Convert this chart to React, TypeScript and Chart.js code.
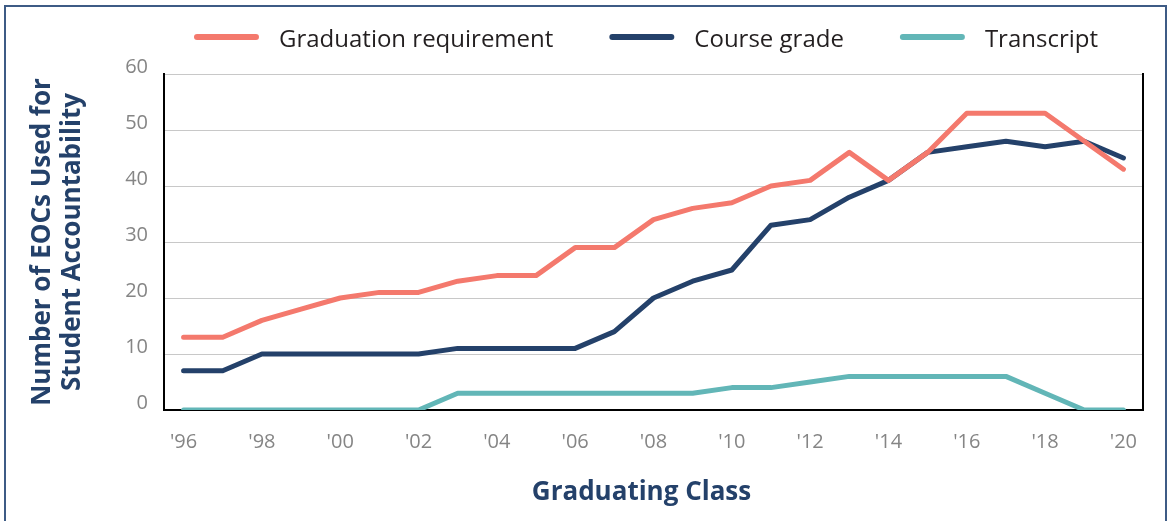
import React, { useEffect, useRef } from 'react';
import { Chart, registerables } from 'chart.js';

Chart.register(...registerables);

const years = ["'96", "'97", "'98", "'99", "'00", "'01", "'02", "'03", "'04", "'05", "'06", "'07", "'08", "'09", "'10", "'11", "'12", "'13", "'14", "'15", "'16", "'17", "'18", "'19", "'20"];
const graduationRequirement = [13, 13, 16, 18, 20, 21, 21, 23, 24, 24, 29, 29, 34, 36, 37, 40, 41, 46, 41, 46, 53, 53, 53, 48, 43];
const courseGrade = [7, 7, 10, 10, 10, 10, 10, 11, 11, 11, 11, 14, 20, 23, 25, 33, 34, 38, 41, 46, 47, 48, 47, 48, 45];
const transcript = [0, 0, 0, 0, 0, 0, 0, 3, 3, 3, 3, 3, 3, 3, 4, 4, 5, 6, 6, 6, 6, 6, 3, 0, 0];
const seriesNames = ['Graduation requirement', 'Course grade', 'Transcript'];
const yTicks = [0, 10, 20, 30, 40, 50, 60];
const xAxisTitle = 'Graduating Class';
const yAxisTitle = ['Number of EOCs Used for', 'Student Accountability'];

const SALMON = '#F4796D';
const NAVY = '#24416A';
const TEAL = '#62B6B7';
const FONT = '"Open Sans", Lato, sans-serif';

// Legend drawn above the plot: a rounded line sample followed by the series name.
const lineLegend = {
  id: 'lineLegend',
  afterDraw(chart: any) {
    const { ctx, chartArea } = chart;
    const lineLen = 65;
    const textGap = 20;
    const itemGap = 56;
    const lineY = 37;
    const textBaseline = 47;
    ctx.save();
    ctx.font = `24px ${FONT}`;
    const items = chart.data.datasets.map((ds: any) => ({
      text: ds.label as string,
      color: ds.borderColor as string,
      w: ctx.measureText(ds.label).width,
    }));
    const total =
      items.reduce((s: number, it: any) => s + lineLen + textGap + it.w, 0) + itemGap * (items.length - 1);
    const center = (chartArea.left + chartArea.right) / 2 - 7.5;
    let x = center - total / 2;
    items.forEach((it: any) => {
      ctx.strokeStyle = it.color;
      ctx.lineWidth = 6;
      ctx.lineCap = 'round';
      ctx.beginPath();
      ctx.moveTo(x + 3, lineY);
      ctx.lineTo(x + lineLen - 3, lineY);
      ctx.stroke();
      ctx.fillStyle = '#231F20';
      ctx.textAlign = 'left';
      ctx.textBaseline = 'alphabetic';
      ctx.fillText(it.text, x + lineLen + textGap, textBaseline);
      x += lineLen + textGap + it.w + itemGap;
    });
    ctx.restore();
  },
};

// X-axis title, set slightly left of the plot centre as in the original.
const xTitle = {
  id: 'xTitle',
  afterDraw(chart: any) {
    const { ctx, chartArea } = chart;
    ctx.save();
    ctx.font = `bold 26px ${FONT}`;
    ctx.fillStyle = NAVY;
    ctx.textAlign = 'center';
    ctx.textBaseline = 'middle';
    ctx.fillText(xAxisTitle, (chartArea.left + chartArea.right) / 2 - 12, chartArea.bottom + 83);
    ctx.restore();
  },
};

export default function App() {
  const ref = useRef<HTMLCanvasElement>(null);

  useEffect(() => {
    if (!ref.current) return;
    const mk = (label: string, data: number[], color: string) => ({
      label,
      data,
      borderColor: color,
      backgroundColor: color,
      borderWidth: 5,
      borderCapStyle: 'round' as const,
      borderJoinStyle: 'round' as const,
      pointRadius: 0,
      pointHoverRadius: 0,
      tension: 0,
      fill: false,
      yAxisID: 'y',
    });
    const chart = new Chart(ref.current, {
      type: 'line',
      data: {
        labels: years,
        datasets: [
          mk(seriesNames[0], graduationRequirement, SALMON),
          mk(seriesNames[1], courseGrade, NAVY),
          mk(seriesNames[2], transcript, TEAL),
        ],
      },
      plugins: [lineLegend, xTitle],
      options: {
        animation: false,
        responsive: false,
        events: [],
        layout: { padding: { left: 28, right: 27, top: 74, bottom: 0 } },
        plugins: {
          legend: { display: false },
          title: { display: false },
          tooltip: { enabled: false },
        },
        scales: {
          x: {
            type: 'category',
            offset: true,
            grid: { display: true, color: 'rgba(0,0,0,0)', drawTicks: false },
            border: { display: true, color: '#000', width: 2 },
            ticks: {
              autoSkip: false,
              maxRotation: 0,
              padding: 20,
              color: '#858585',
              font: { family: FONT, size: 20 },
              callback: (_v: any, i: number) => (i % 2 === 0 ? years[i] : ''),
            },
            title: { display: false },
            afterFit: (s: any) => {
              s.height = 111;
            },
          },
          y: {
            type: 'linear',
            min: 0,
            max: 60,
            afterBuildTicks: (s: any) => {
              s.ticks = yTicks.map((v) => ({ value: v }));
            },
            ticks: {
              padding: 16,
              labelOffset: -7,
              color: '#858585',
              font: { family: FONT, size: 20 },
            },
            grid: {
              drawTicks: false,
              lineWidth: 1,
              color: (ctx: any) => (ctx.tick && ctx.tick.value === 0 ? 'rgba(0,0,0,0)' : '#C8C8C8'),
            },
            border: { display: true, color: '#000', width: 2 },
            title: {
              display: true,
              text: yAxisTitle,
              color: NAVY,
              font: { family: FONT, size: 26, weight: 'bold', lineHeight: 1.15 },
              padding: 0,
            },
            afterFit: (s: any) => {
              s.width = 136;
            },
          },
          y2: {
            type: 'linear',
            position: 'right',
            min: 0,
            max: 60,
            ticks: { display: false },
            grid: { display: true, color: 'rgba(0,0,0,0)', drawTicks: false },
            border: { display: true, color: '#000', width: 2 },
            afterFit: (s: any) => {
              s.width = 0;
            },
          },
        },
      } as any,
    });
    return () => chart.destroy();
  }, []);

  return (
    <div style={{ position: 'absolute', left: 0, top: 0, width: 1170, height: 521, overflow: 'hidden', background: '#fff' }}>
      <div
        style={{
          position: 'absolute',
          left: 4,
          top: 5,
          width: 1163,
          height: 600,
          boxSizing: 'border-box',
          border: '2px solid #3D5B85',
        }}
      />
      <canvas ref={ref} width={1170} height={521} style={{ position: 'absolute', left: 0, top: 0, width: 1170, height: 521 }} />
    </div>
  );
}
